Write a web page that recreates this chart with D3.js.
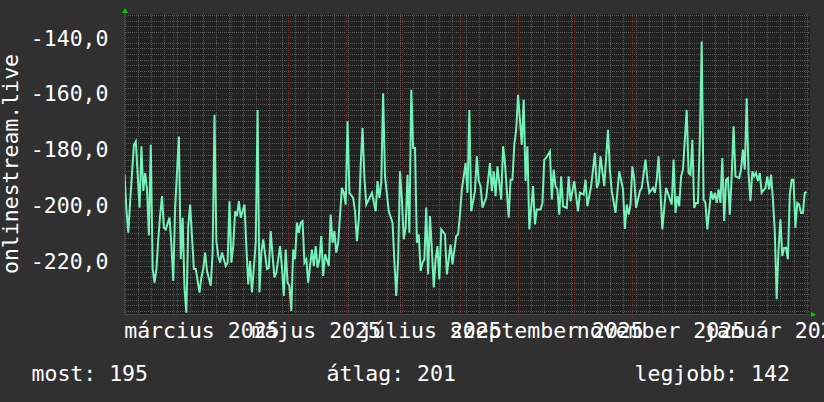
<!DOCTYPE html>
<html>
<head>
<meta charset="utf-8" />
<script src="https://d3js.org/d3.v7.min.js"></script>
<style>
  body { margin: 0; background: #303030; }
  svg { display: block; }
  text { font-family: "DejaVu Sans Mono", monospace; font-size: 21.5px; fill: #ffffff; }
</style>
</head>
<body>
<div id="chart"></div>
<script>
// days since 2025-03-01 (UTC) and the value of that day
const dayNo = [-26,-25,-24,-23,-22,-21,-20,-18,-17,-16,-15,-14,-13,-12,-11,-10,-9,-8,-7,-6,-5,-4,-2,-1,
  0,1,3,4,5,6,7,8,9,11,12,14,15,16,17,18,20,21,22,23,24,25,26,28,29,30,31,32,33,34,35,36,38,39,40,41,42,44,
  45,46,47,48,50,51,52,53,54,55,57,58,59,60,61,62,63,64,65,66,67,68,69,70,71,72,74,75,76,77,78,79,80,81,83,
  84,85,86,87,88,90,91,92,93,94,96,97,98,99,100,101,102,103,106,108,109,110,111,112,113,115,117,118,119,120,
  121,122,123,124,125,126,127,128,129,130,131,132,133,134,135,136,137,138,139,140,141,142,143,145,146,147,148,
  149,151,152,153,154,155,156,157,158,159,161,162,163,164,165,167,169,170,171,172,173,175,176,177,179,180,181,
  182,183,184,186,187,188,189,190,192,193,194,196,197,198,199,201,202,203,204,205,206,207,208,210,211,212,214,
  216,217,219,220,221,223,225,226,227,228,230,232,233,234,236,238,240,241,242,243,244,245,246,247,249,250,252,
  253,254,256,257,258,259,261,263,266,267,268,269,270,271,272,274,275,276,277,278,279,280,281,282,283,284,285,
  287,288,289,290,291,292,293,294,295,296,297,298,299,300,302,303,304,305,306,307,308,309,310,311,312,313,314,
  316,317,318,319,320,321,322,323,324,325,326,327,328,329,330,331,332,333,334,335,336,337,338];
const listeners = [-189.2,-201.7,-210,-198.7,-188.6,-178.5,-177.3,-201,-179,-195,-188.6,-194.5,-211,-178.5,
  -223,-227.9,-223,-212.4,-203.5,-196.9,-208.2,-208.8,-204.6,-214.2,
  -227.3,-201,-175.5,-219.5,-204.6,-230.2,-238.6,-207.6,-199.9,-223,-223,-231.4,-226,-223,-217.1,-223.7,-229,
  -217.1,-167.7,-213,-218.3,-220.7,-217.1,-221.9,-220.7,-198.7,-220.7,-214.8,-202.3,-204,-198.7,-204.6,-199.9,
  -214.8,-228.5,-220.1,-231.4,-213.6,
  -166,-231.4,-217.1,-212.4,-223,-222.5,-209.4,-218.3,-226,-224.3,-214.8,-222.5,-232.6,-216,-227.9,-229,-238,
  -216,-219.5,-206.4,-210,-206.4,-205.8,-220.7,-219.5,-227.9,-216,-221.9,-214.8,-222.5,-219.5,-211.2,-225.5,
  -217.7,-221.9,
  -203.5,-213.6,-209.4,-217.1,-213.6,-193.9,-195.7,-199.9,-170.1,-195.7,-197.5,-202.3,-213,-205.2,-186.2,
  -172.5,-190.4,-199.9,-195.7,-202.3,-191.5,-197.5,-192.1,-160,-189.8,-202.3,-206.4,-220.1,-232.6,-219.5,
  -188,-198.1,-212.4,-208.2,-189.2,-210,-158.8,-179.6,-179.6,-213.6,-210.6,-223.7,-220.7,-219.5,-201,-224.9,
  -204,-216,-229.6,-219.5,-214.8,-226.7,-208.8,-210.6,-224.9,-219.5,-214.2,
  -221.3,-211.2,-210.6,-203.5,-194.5,-189.8,-185,-195.7,-166,-202.3,-195.1,-182.6,-191.5,-193.3,-201,-197.5,
  -185,-195.1,-188,-196.9,-186.2,-198.1,-179,-185,-204.6,-191,-191,
  -178.5,-173.1,-160.6,-178.5,-162.4,-191.5,-179,-208.8,-193.3,-207,-201.7,-201.7,-199.3,-183.8,-183.2,-180.8,
  -198.1,-187.4,-193.3,-194.5,-203.5,-189.8,-200.5,-201.1,-189.8,-198.7,-191.5,
  -202.3,-195.7,-196.3,-191,-200.5,-193.3,-181.4,-193.9,-192.1,-182.6,-193.3,-173.1,-187.4,-195.1,-202.9,-188,
  -194.5,-208.6,-199.9,-203.5,-199.9,-186.2,-191,-201.1,-195.1,-193.9,-183.8,
  -191,-195.7,-193.9,-195.7,-191,-182.6,-208.8,-193.9,-199.9,-183.8,-202.9,-196.9,-200.5,-189.8,-187.4,-166,
  -188.6,-189.2,-176.7,-201.1,-199.3,-199.3,-176.7,-141.5,-198.1,-199.3,-208.8,
  -195.1,-198.1,-195.7,-199.3,-194.5,-199.3,-183.2,-205.8,-191,-190.4,-203.5,-189.8,-171.9,-189.8,-190.4,-187.4,
  -180.2,-187.4,-161.8,-188.6,-198.7,-188,-189.8,-188.6,-191.5,-188.6,-195.7,
  -193.9,-189.8,-194.5,-189.2,-198.1,-209.4,-233.8,-216,-205.2,-218.3,-215.4,-215.4,-219.5,-196.3,-191,-191,
  -208.2,-199.3,-199.9,-202.9,-202.9,-195.7,-195.4];

const yTicks = [-140, -160, -180, -200, -220];
const labelMonths = ["2025-03-01", "2025-05-01", "2025-07-01", "2025-09-01", "2025-11-01", "2026-01-01"];
const monthLabels = ["március 2025", "május 2025", "július 2025", "szeptember 2025", "november 2025", "január 2026"];
const yTitle = "onlinestream.live";
const legendText = ["most: 195", "átlag: 201", "legjobb: 142"];

const width = 824, height = 402;
const plotL = 124, plotR = 810, plotT = 14, plotB = 314;
const t0 = Date.UTC(2025, 2, 1);

const data = dayNo.map((d, i) => ({ date: d3.utcDay.offset(new Date(t0), d), v: listeners[i] }));

const x = d3.scaleUtc()
  .domain([new Date(Date.UTC(2025, 1, 2, 17)), new Date(Date.UTC(2026, 1, 3, 19))])
  .range([plotL, plotR]);
const y = d3.scaleLinear()
  .domain([-239.1, -131.65])
  .range([plotB, plotT]);

const svg = d3.select("#chart").append("svg")
  .attr("width", width)
  .attr("height", height);

svg.append("rect").attr("width", width).attr("height", height).attr("fill", "#303030");
svg.append("rect")
  .attr("x", plotL).attr("y", plotT)
  .attr("width", plotR - plotL).attr("height", plotB - plotT)
  .attr("fill", "#222222");

const grid = svg.append("g").attr("shape-rendering", "crispEdges");

// minor grid
grid.selectAll(".hmin").data(d3.range(-238, -131, 2)).enter().append("line")
  .attr("x1", plotL).attr("x2", plotR)
  .attr("y1", d => Math.round(y(d)) + 0.5).attr("y2", d => Math.round(y(d)) + 0.5)
  .attr("stroke", "#555555").attr("stroke-dasharray", "1,1");
grid.selectAll(".vmin").data(d3.utcMonday.range(...x.domain())).enter().append("line")
  .attr("x1", d => Math.round(x(d)) + 0.5).attr("x2", d => Math.round(x(d)) + 0.5)
  .attr("y1", plotT).attr("y2", plotB + 2)
  .attr("stroke", "#555555").attr("stroke-dasharray", "1,1");

// major grid
grid.selectAll(".hmaj").data(yTicks).enter().append("line")
  .attr("x1", plotL - 2).attr("x2", plotR + 2)
  .attr("y1", d => Math.round(y(d)) + 0.5).attr("y2", d => Math.round(y(d)) + 0.5)
  .attr("stroke", "#633232").attr("stroke-dasharray", "1,1");
grid.selectAll(".vmaj").data(d3.utcMonth.range(...x.domain())).enter().append("line")
  .attr("x1", d => Math.round(x(d)) + 0.5).attr("x2", d => Math.round(x(d)) + 0.5)
  .attr("y1", plotT).attr("y2", plotB + 3)
  .attr("stroke", "#633232").attr("stroke-dasharray", "1,1");

svg.append("clipPath").attr("id", "clip")
  .append("rect").attr("x", plotL).attr("y", plotT).attr("width", plotR - plotL).attr("height", plotB - plotT);

const line = d3.line().x(d => x(d.date)).y(d => y(d.v));
svg.append("path")
  .datum(data)
  .attr("clip-path", "url(#clip)")
  .attr("fill", "none")
  .attr("stroke", "#74f2b9")
  .attr("stroke-width", 2)
  .attr("d", line);

// axis lines and arrows
svg.append("line").attr("x1", plotL).attr("x2", plotR + 2).attr("y1", plotB + 0.5).attr("y2", plotB + 0.5)
  .attr("stroke", "#444").attr("shape-rendering", "crispEdges");
svg.append("line").attr("x1", plotL + 0.5).attr("x2", plotL + 0.5).attr("y1", plotT - 1).attr("y2", plotB)
  .attr("stroke", "#444").attr("shape-rendering", "crispEdges");
svg.append("path").attr("d", `M${plotL - 2},${plotT - 1}L${plotL + 4},${plotT - 1}L${plotL + 1},${plotT - 6}Z`).attr("fill", "#00cc00");
svg.append("path").attr("d", `M${plotR + 1},${plotB - 2}L${plotR + 1},${plotB + 3}L${plotR + 6},${plotB + 0.5}Z`).attr("fill", "#00cc00");

// y axis labels
const yAxis = d3.axisLeft(y).tickValues(yTicks).tickSize(0).tickPadding(0)
  .tickFormat(d => d3.format(".1f")(d).replace("−", "-").replace(".", ","));
svg.append("g").attr("transform", "translate(108.5,0)").call(yAxis)
  .call(g => g.select(".domain").remove())
  .call(g => g.selectAll("text").attr("dy", "0.36em").attr("fill", "#fff")
    .style("font-family", "DejaVu Sans Mono").style("font-size", "21.5px"));

// x axis labels, centred in the middle of the labelled month
const labelDates = labelMonths.map(s => d3.utcDay.offset(new Date(s + "T00:00:00Z"), 15));
const xAxis = d3.axisBottom(x).tickValues(labelDates).tickSize(0).tickPadding(0)
  .tickFormat((d, i) => monthLabels[i]);
svg.append("g").attr("transform", "translate(0,323.2)").call(xAxis)
  .call(g => g.select(".domain").remove())
  .call(g => g.selectAll("text").attr("fill", "#fff")
    .style("font-family", "DejaVu Sans Mono").style("font-size", "21.5px"));

svg.append("text")
  .attr("transform", `translate(18.3,${(plotT + plotB) / 2}) rotate(-90)`)
  .attr("text-anchor", "middle")
  .text(yTitle);

const legendX = [31.5, 326.5, 634.5];
svg.selectAll(".legend").data(legendText).enter().append("text")
  .attr("x", (d, i) => legendX[i])
  .attr("y", 380.5)
  .text(d => d);
</script>
</body>
</html>
